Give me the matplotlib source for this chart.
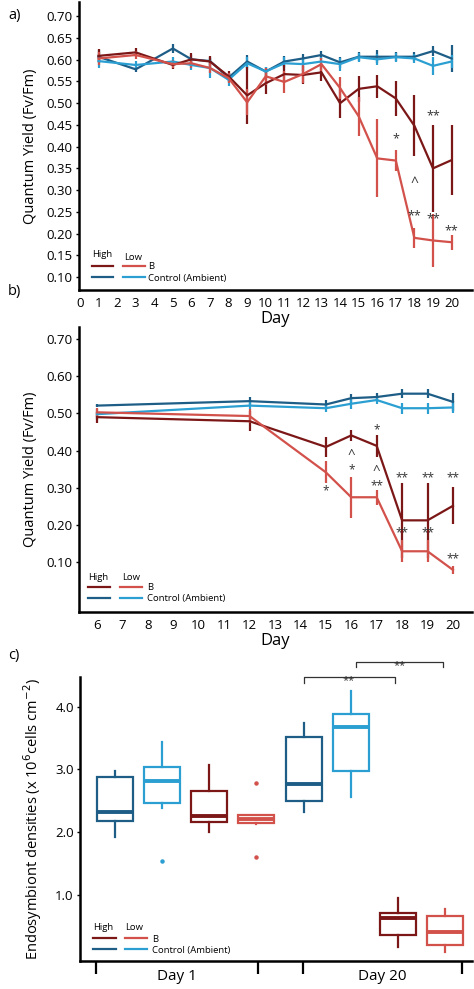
import matplotlib
matplotlib.use("Agg")
import matplotlib.pyplot as plt
from matplotlib.lines import Line2D
import numpy as np

plt.rcParams['font.family'] = ['Open Sans', 'DejaVu Sans']

# ---------------- colours ----------------
C_DB = "#1d5d86"   # Control High
C_LB = "#2b9fd1"   # Control Low
C_DR = "#7c1717"   # B High
C_LR = "#d2514b"   # B Low

# ---------------- panel a data ----------------
days_a = [1, 3, 5, 6, 7, 8, 9, 10, 11, 12, 13, 14, 15, 16, 17, 18, 19, 20]
a_ctrl_high = [0.607, 0.578, 0.626, 0.601, 0.597, 0.559, 0.596, 0.573, 0.596, 0.603,
               0.611, 0.594, 0.607, 0.607, 0.607, 0.607, 0.620, 0.603]
a_ctrl_high_err = [0.015, 0.005, 0.010, 0.010, 0.010, 0.010, 0.015, 0.010, 0.012, 0.010,
                   0.010, 0.012, 0.010, 0.015, 0.010, 0.010, 0.012, 0.030]
a_ctrl_low = [0.597, 0.588, 0.596, 0.588, 0.581, 0.554, 0.592, 0.573, 0.592, 0.590,
              0.596, 0.590, 0.606, 0.601, 0.606, 0.603, 0.586, 0.596]
a_ctrl_low_err = [0.015, 0.010, 0.010, 0.012, 0.022, 0.015, 0.015, 0.010, 0.015, 0.015,
                  0.010, 0.015, 0.010, 0.012, 0.010, 0.010, 0.020, 0.015]
a_b_high = [0.609, 0.617, 0.588, 0.601, 0.596, 0.562, 0.518, 0.546, 0.567, 0.565,
            0.571, 0.500, 0.533, 0.539, 0.511, 0.448, 0.350, 0.369]
a_b_high_err = [0.015, 0.010, 0.010, 0.015, 0.012, 0.012, 0.065, 0.025, 0.020, 0.020,
                0.020, 0.034, 0.030, 0.027, 0.040, 0.070, 0.100, 0.080]
a_b_low = [0.603, 0.611, 0.590, 0.592, 0.581, 0.558, 0.502, 0.562, 0.549, 0.567,
           0.590, 0.535, 0.470, 0.373, 0.368, 0.190, 0.184, 0.180]
a_b_low_err = [0.015, 0.010, 0.010, 0.012, 0.012, 0.012, 0.030, 0.020, 0.025, 0.020,
               0.015, 0.025, 0.045, 0.090, 0.025, 0.023, 0.060, 0.017]
a_ticks_x = list(range(0, 21))
a_ticks_y = [0.10, 0.15, 0.20, 0.25, 0.30, 0.35, 0.40, 0.45, 0.50, 0.55, 0.60, 0.65, 0.70]
a_annot_x = [17, 19, 18, 18, 19, 20]
a_annot_y = [0.418, 0.472, 0.316, 0.240, 0.233, 0.207]
a_annot_t = ["*", "**", "^", "**", "**", "**"]

# ---------------- panel b data ----------------
days_b = [6, 12, 15, 16, 17, 18, 19, 20]
b_ctrl_high = [0.521, 0.533, 0.524, 0.541, 0.544, 0.553, 0.553, 0.531]
b_ctrl_high_err = [0.005, 0.010, 0.012, 0.012, 0.010, 0.012, 0.012, 0.025]
b_ctrl_low = [0.498, 0.521, 0.514, 0.526, 0.536, 0.514, 0.514, 0.516]
b_ctrl_low_err = [0.015, 0.010, 0.010, 0.015, 0.010, 0.015, 0.015, 0.015]
b_b_high = [0.490, 0.479, 0.410, 0.441, 0.413, 0.213, 0.213, 0.252]
b_b_high_err = [0.015, 0.027, 0.027, 0.015, 0.030, 0.100, 0.100, 0.050]
b_b_low = [0.503, 0.493, 0.342, 0.275, 0.275, 0.130, 0.130, 0.080]
b_b_low_err = [0.012, 0.020, 0.030, 0.055, 0.020, 0.030, 0.030, 0.010]
b_ticks_x = list(range(6, 21))
b_ticks_y = [0.10, 0.20, 0.30, 0.40, 0.50, 0.60, 0.70]
b_annot_x = [17, 16, 16, 17, 17, 15, 18, 19, 20, 18, 19, 20]
b_annot_y = [0.455, 0.389, 0.348, 0.346, 0.306, 0.293, 0.326, 0.326, 0.326, 0.180, 0.180, 0.109]
b_annot_t = ["*", "^", "*", "^", "**", "*", "**", "**", "**", "**", "**", "**"]

# ---------------- panel c data ----------------
box_groups = ["Control High D1", "Control Low D1", "B High D1", "B Low D1",
              "Control High D20", "Control Low D20", "B High D20", "B Low D20"]
box_lo = [1.93, 2.39, 2.01, 2.13, 2.32, 2.56, 0.17, 0.09]
box_q1 = [2.18, 2.47, 2.16, 2.14, 2.49, 2.97, 0.36, 0.20]
box_med = [2.32, 2.81, 2.26, 2.21, 2.77, 3.68, 0.63, 0.41]
box_q3 = [2.88, 3.03, 2.66, 2.27, 3.51, 3.88, 0.71, 0.66]
box_hi = [2.98, 3.43, 3.07, 2.28, 3.74, 4.24, 0.95, 0.78]
box_fliers = [[], [1.54], [], [2.78, 1.61], [], [], [], []]
box_colors = [C_DB, C_LB, C_DR, C_LR, C_DB, C_LB, C_DR, C_LR]
c_ticks_y = [1.0, 2.0, 3.0, 4.0]
c_day_labels = ["Day 1", "Day 20"]

W, H = 474, 989
fig = plt.figure(figsize=(W / 100, H / 100), dpi=100)


def px_axes(x0, y0, x1, y1):
    return fig.add_axes([x0 / W, 1 - y1 / H, (x1 - x0) / W, (y1 - y0) / H])


def style_axes(ax):
    for s in ["top", "right"]:
        ax.spines[s].set_visible(False)
    for s in ["left", "bottom"]:
        ax.spines[s].set_linewidth(1.8)
    ax.tick_params(axis="both", labelsize=9.5, length=2.5, width=1.0, pad=2,
                   colors="black")


def draw_series(ax, x, y, e, color):
    ax.errorbar(x, y, yerr=e, color=color, lw=1.6, elinewidth=1.6, capsize=0)


def legend_px(items):
    (hx, hy, lx, ly, red_y, blue_y, l1x0, l1x1, l2x0, l2x1, tx) = items
    fig.text(hx / W, 1 - hy / H, "High", fontsize=6.8, ha="left", va="center")
    fig.text(lx / W, 1 - ly / H, "Low", fontsize=6.8, ha="left", va="center")
    for (yy, c1, c2, lab) in [(red_y, C_DR, C_LR, "B"), (blue_y, C_DB, C_LB, "Control (Ambient)")]:
        fig.add_artist(Line2D([l1x0 / W, l1x1 / W], [1 - yy / H, 1 - yy / H], color=c1, lw=1.6))
        fig.add_artist(Line2D([l2x0 / W, l2x1 / W], [1 - yy / H, 1 - yy / H], color=c2, lw=1.6))
        fig.text(tx / W, 1 - (yy + 1) / H, lab, fontsize=6.8, ha="left", va="center")


# ================= panel a =================
axa = px_axes(79, 2, 472, 290)
style_axes(axa)
draw_series(axa, days_a, a_ctrl_high, a_ctrl_high_err, C_DB)
draw_series(axa, days_a, a_ctrl_low, a_ctrl_low_err, C_LB)
draw_series(axa, days_a, a_b_high, a_b_high_err, C_DR)
draw_series(axa, days_a, a_b_low, a_b_low_err, C_LR)
axa.set_xlim(-0.05, 21.1)
axa.set_ylim(0.07, 0.733)
axa.set_xticks(a_ticks_x)
axa.set_yticks(a_ticks_y)
axa.set_yticklabels([f"{v:.2f}" for v in a_ticks_y])
axa.tick_params(axis="x", length=0, pad=5)
axa.set_xlabel("Day", fontsize=12, labelpad=1)
axa.set_ylabel("Quantum Yield (Fv/Fm)", fontsize=10.5, labelpad=6)
for x, y, t in zip(a_annot_x, a_annot_y, a_annot_t):
    axa.text(x, y, t, ha="center", va="center", fontsize=9 if t != "^" else 10, color="#333333")
legend_px((92, 255, 124, 257, 266, 277, 92, 113, 123, 145, 148))
fig.text(8 / W, 1 - 16 / H, "a)", fontsize=10.5, ha="left", va="center")

# ================= panel b =================
axb = px_axes(79, 327, 472, 612)
style_axes(axb)
draw_series(axb, days_b, b_ctrl_high, b_ctrl_high_err, C_DB)
draw_series(axb, days_b, b_ctrl_low, b_ctrl_low_err, C_LB)
draw_series(axb, days_b, b_b_high, b_b_high_err, C_DR)
draw_series(axb, days_b, b_b_low, b_b_low_err, C_LR)
axb.set_xlim(5.29, 20.75)
axb.set_ylim(-0.033, 0.732)
axb.set_xticks(b_ticks_x)
axb.set_yticks(b_ticks_y)
axb.set_yticklabels([f"{v:.2f}" for v in b_ticks_y])
axb.tick_params(axis="x", length=0, pad=5)
axb.set_xlabel("Day", fontsize=12, labelpad=1)
axb.set_ylabel("Quantum Yield (Fv/Fm)", fontsize=10.5, labelpad=6)
for x, y, t in zip(b_annot_x, b_annot_y, b_annot_t):
    axb.text(x, y, t, ha="center", va="center", fontsize=8.5 if t != "^" else 9.5,
             color="#333333")
legend_px((88, 577, 122, 577, 587, 598, 88, 110, 120, 142, 147))
fig.text(8 / W, 1 - 292 / H, "b)", fontsize=10.5, ha="left", va="center")

# ================= panel c =================
axc = px_axes(80, 677, 472, 961)
style_axes(axc)
positions = np.arange(1, len(box_groups) + 1)
stats = []
for i in range(len(box_groups)):
    stats.append(dict(med=box_med[i], q1=box_q1[i], q3=box_q3[i],
                      whislo=box_lo[i], whishi=box_hi[i], fliers=box_fliers[i],
                      label=box_groups[i]))
bp = axc.bxp(stats, positions=positions, widths=0.76, showcaps=False,
             patch_artist=True, manage_ticks=False)
for i, c in enumerate(box_colors):
    bp["boxes"][i].set(facecolor="white", edgecolor=c, linewidth=1.6)
    bp["medians"][i].set(color=c, linewidth=2.8)
    bp["whiskers"][2 * i].set(color=c, linewidth=1.6)
    bp["whiskers"][2 * i + 1].set(color=c, linewidth=1.6)
    bp["fliers"][i].set(marker="o", markersize=2.2, markerfacecolor=c,
                        markeredgecolor=c)
axc.set_xlim(0.26, 8.57)
axc.set_ylim(-0.05, 4.47)
axc.set_yticks(c_ticks_y)
axc.set_yticklabels([f"{v:.1f}" for v in c_ticks_y])
tick_pos = [0.6, 4.04, 4.98, 8.36]
axc.set_xticks(tick_pos)
axc.set_xticklabels([""] * len(tick_pos))
axc.tick_params(axis="x", length=9, width=1.6, direction="out")
for (a0, a1), lab in zip([(tick_pos[0], tick_pos[1]), (tick_pos[2], tick_pos[3])], c_day_labels):
    axc.text((a0 + a1) / 2, -(977 - 961) / 284, lab, transform=axc.get_xaxis_transform(),
             ha="center", va="center", fontsize=11)
axc.set_ylabel(r"Endosymbiont densities (x 10$^{6}$cells cm$^{-2}$)", fontsize=10.5, labelpad=8)

# significance brackets
brackets = [(5.0, 6.93, 4.475, 4.38), (6.11, 7.95, 4.705, 4.625)]
for x0, x1, ytop, ybot in brackets:
    axc.plot([x0, x0, x1, x1], [ybot, ytop, ytop, ybot], color="#333333", lw=0.9,
             clip_on=False)
    axc.text((x0 + x1) / 2, ytop - 0.06, "**", ha="center", va="center",
             fontsize=8, color="#333333", clip_on=False)
legend_px((93, 927, 125, 928, 938, 949, 93, 116, 125, 147, 152))
fig.text(8 / W, 1 - 656 / H, "c)", fontsize=10.5, ha="left", va="center")

fig.savefig("out.png", dpi=100)
